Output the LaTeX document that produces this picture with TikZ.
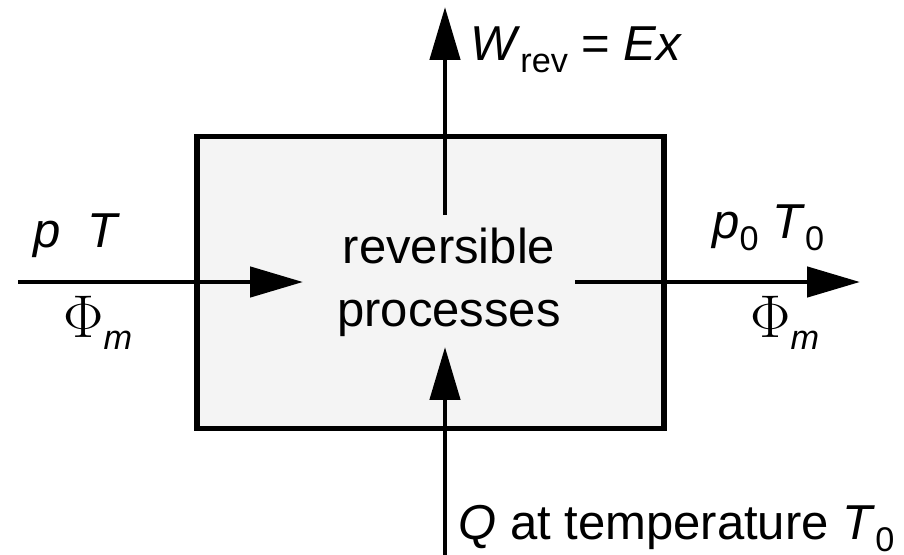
\documentclass[tikz,border=0pt]{standalone}
\usepackage{fontspec}
\setmainfont{Liberation Sans}
\usepackage{xcolor}
\usepackage{graphicx}
\usetikzlibrary{arrows.meta}
\definecolor{procgrey}{HTML}{F4F4F4}
\newcommand{\idx}[1]{\raisebox{-0.25em}{\fontsize{19.5pt}{20pt}\selectfont #1}}
\newcommand{\massflow}{\scalebox{1.38}{$\Phi$}\idx{\textit{m}}}

\begin{document}
\begin{tikzpicture}[x=0.02cm, y=-0.02cm,
    every node/.style={font=\fontsize{27.9pt}{35.8pt}\selectfont},
    flow/.style={line width=0.095cm, -{Triangle[length=1.06cm, width=0.6cm]}},
    lbl/.style={anchor=base west, inner sep=0pt}]
    \useasboundingbox (0,0) rectangle (904,555);
    \node[draw, line width=0.11cm, fill=procgrey, minimum width=9.34cm,
          minimum height=5.84cm, inner sep=0pt] (proc) at (430.5,282.5) {};
    \node[align=center, inner sep=0pt] (txt) at (449,282) {reversible\\processes};

    \coordinate (inS) at (18,282);
    \coordinate (inE) at (303,282);
    \coordinate (outS) at (575,282);
    \coordinate (outE) at (860,282);
    \coordinate (workS) at (445,215);
    \coordinate (workE) at (445,7);
    \coordinate (heatS) at (445,555);
    \coordinate (heatE) at (445,347);
    \draw[flow] (inS) -- (inE);
    \draw[flow] (outS) -- (outE);
    \draw[flow] (workS) -- (workE);
    \draw[flow] (heatS) -- (heatE);

    \node[lbl] (inState) at (33,247) {\textit{p}\ \ \textit{T}};
    \node[lbl] (inFlow) at (63,337) {\massflow};
    \node[lbl] (outState) at (712,238) {\textit{p}\idx{0} \textit{T}\idx{0}};
    \node[lbl] (outFlow) at (750,337) {\massflow};
    \node[lbl] (work) at (470,60) {\textit{W}\idx{rev} = \textit{Ex}};
    \node[lbl] (heat) at (458,539) {\textit{Q} at temperature \textit{T}\idx{0}};
  \end{tikzpicture}
\end{document}
